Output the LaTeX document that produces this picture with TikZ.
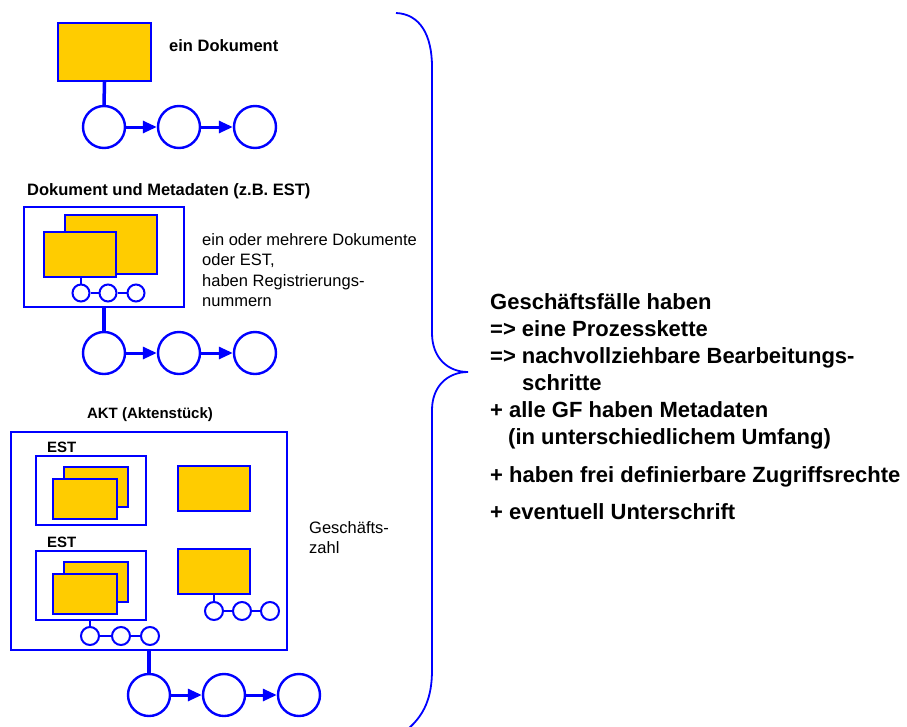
\documentclass[tikz,border=0pt]{standalone}
\usepackage{fontspec}
\setmainfont{Liberation Sans}
\usetikzlibrary{arrows.meta}
\definecolor{docyellow}{RGB}{255,204,0}
\definecolor{lineblue}{RGB}{0,0,255}
\tikzset{
  doc/.style={rectangle, draw=lineblue, fill=docyellow, line width=2.4pt, inner sep=0pt},
  frame/.style={rectangle, draw=lineblue, line width=2.4pt, inner sep=0pt},
  bigstep/.style={circle, draw=lineblue, fill=white, line width=2.4pt, minimum size=42pt, inner sep=0pt},
  smallstep/.style={circle, draw=lineblue, fill=white, line width=2pt, minimum size=17pt, inner sep=0pt},
  flow/.style={draw=lineblue, line width=3pt, -{Triangle[length=14pt,width=12pt]}},
  link/.style={draw=lineblue, line width=3.5pt},
  thinlink/.style={draw=lineblue, line width=2.4pt},
  lbl/.style={inner sep=0pt, font=\bfseries\fontsize{16.5}{20}\selectfont},
  lblsmall/.style={inner sep=0pt, font=\bfseries\fontsize{15}{18}\selectfont},
  body/.style={inner sep=0pt, align=left, font=\fontsize{16.5}{20.5}\selectfont},
  summary/.style={inner sep=0pt, align=left, font=\bfseries\fontsize{22}{27}\selectfont},
  brace/.style={draw=lineblue, line width=1.8pt}
}
\begin{document}
\begin{tikzpicture}[x=1pt,y=-1pt]
\useasboundingbox[fill=white] (0,0) rectangle (907,726);

% --- single document with its process chain
\node[doc, minimum width=93pt, minimum height=58pt] (d1) at (104.5,52) {};
\node[lbl, anchor=west] (t1) at (169,46) {ein Dokument};
\node[bigstep] (c1a) at (104,127) {};
\node[bigstep] (c1b) at (179,127) {};
\node[bigstep] (c1c) at (255,127) {};
\draw[link] (d1.south) -- (c1a.north);
\draw[flow] (c1a) -- (c1b);
\draw[flow] (c1b) -- (c1c);

% --- document with metadata (EST)
\node[lbl, anchor=west] (t2) at (27,191) {Dokument und Metadaten (z.B. EST)};
\node[frame, minimum width=160pt, minimum height=100pt] (f2) at (104,257) {};
\node[doc, minimum width=92pt, minimum height=59pt] (d2b) at (111,244.5) {};
\node[doc, minimum width=72pt, minimum height=45pt] (d2f) at (80,254.5) {};
\node[smallstep] (s2a) at (81,293) {};
\node[smallstep] (s2b) at (108,293) {};
\node[smallstep] (s2c) at (136,293) {};
\draw[thinlink] (s2a.north) -- (s2a.north |- d2f.south);
\draw[thinlink] (s2a) -- (s2b) (s2b) -- (s2c);
\node[bigstep] (c2a) at (104,353) {};
\node[bigstep] (c2b) at (179,353) {};
\node[bigstep] (c2c) at (255,353) {};
\draw[link] (f2.south) -- (c2a.north);
\draw[flow] (c2a) -- (c2b);
\draw[flow] (c2b) -- (c2c);
\node[body, anchor=north west] (t2b) at (202,233)
  {ein oder mehrere Dokumente\\oder EST,\\haben Registrierungs-\\nummern};

% --- AKT (Aktenstueck)
\node[lblsmall] (t3) at (150,415) {AKT (Aktenstück)};
\node[frame, minimum width=276pt, minimum height=218pt] (f3) at (149,541) {};
\node[lblsmall, anchor=west] (e1) at (47,447) {EST};
\node[frame, minimum width=110pt, minimum height=69pt] (g1) at (91,490.5) {};
\node[doc, minimum width=64pt, minimum height=40pt] (g1b) at (96,487) {};
\node[doc, minimum width=64pt, minimum height=40pt] (g1f) at (85,499) {};
\node[doc, minimum width=72pt, minimum height=45pt] (r1) at (214,488.5) {};

\node[lblsmall, anchor=west] (e2) at (47,542) {EST};
\node[frame, minimum width=110pt, minimum height=69pt] (g2) at (91,585.5) {};
\node[doc, minimum width=64pt, minimum height=40pt] (g2b) at (96,582) {};
\node[doc, minimum width=64pt, minimum height=40pt] (g2f) at (85,594) {};
\node[smallstep, minimum size=18pt] (s3a) at (90,636) {};
\node[smallstep, minimum size=18pt] (s3b) at (121,636) {};
\node[smallstep, minimum size=18pt] (s3c) at (150,636) {};
\draw[thinlink] (s3a.north) -- (s3a.north |- g2.south);
\draw[thinlink] (s3a) -- (s3b) (s3b) -- (s3c);

\node[doc, minimum width=72pt, minimum height=45pt] (r2) at (214,571.5) {};
\node[smallstep, minimum size=18pt] (s4a) at (214,611) {};
\node[smallstep, minimum size=18pt] (s4b) at (242,611) {};
\node[smallstep, minimum size=18pt] (s4c) at (270,611) {};
\draw[thinlink] (s4a.north) -- (r2.south);
\draw[thinlink] (s4a) -- (s4b) (s4b) -- (s4c);

\node[bigstep] (c3a) at (149,695) {};
\node[bigstep] (c3b) at (224,695) {};
\node[bigstep] (c3c) at (299,695) {};
\draw[link] (f3.south) -- (c3a.north);
\draw[flow] (c3a) -- (c3b);
\draw[flow] (c3b) -- (c3c);
\node[body, anchor=north west] (t3b) at (309,521) {Geschäfts-\\zahl};

% --- curly brace
\draw[brace] (396,13) .. controls (420,14) and (432,35) .. (432,67)
  -- (432,333) .. controls (432,358) and (448,372) .. (468,372)
  .. controls (448,372) and (432,386) .. (432,410)
  -- (432,670) .. controls (432,698) and (424,715) .. (408,729);

% --- summary text
\node[summary, anchor=north west] (sum) at (490,293)
  {Geschäftsfälle haben\\
   => eine Prozesskette\\
   => nachvollziehbare Bearbeitungs-\\
   \hspace*{32pt}schritte\\
   + alle GF haben Metadaten\\
   \hspace*{18pt}(in unterschiedlichem Umfang)\\[11pt]
   + haben frei definierbare Zugriffsrechte\\[10pt]
   + eventuell Unterschrift};
\end{tikzpicture}
\end{document}
